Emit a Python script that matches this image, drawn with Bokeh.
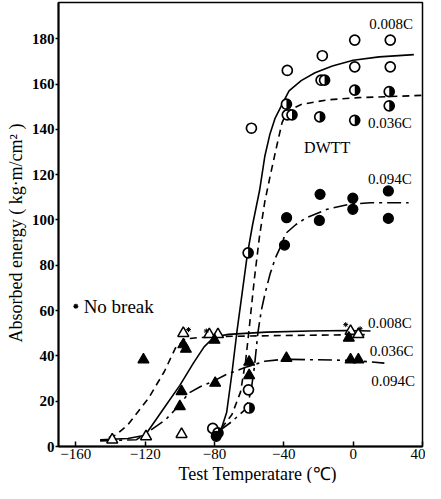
import math
from bokeh.plotting import figure
from bokeh.models import Label, FixedTicker, Title
from bokeh.embed import file_html
from bokeh.resources import INLINE

# ---------------- data ----------------
x_ticks = [-160, -120, -80, -40, 0, 40]
x_tick_labels = ["\u2212160", "\u2212120", "\u221280", "\u221240", "0", "40"]
y_ticks = [0, 20, 40, 60, 80, 100, 120, 140, 160, 180]

# DWTT curves
dwtt_008_T = [-80, -76, -73, -70, -67, -64, -61, -58, -54, -51, -48, -45, -41, -37, -30, -22, -12, 0, 15, 35]
dwtt_008_E = [4, 8, 15, 32, 51, 68, 85, 98, 113, 128, 138, 145, 151, 157, 161.5, 165, 168, 170.5, 172, 173]
dwtt_036_T = [-76, -70, -65, -62, -60, -57, -54, -51, -48, -44, -41, -38, -30, -15, 3, 40]
dwtt_036_E = [8, 14, 24, 38, 52, 74, 93, 108, 119, 133, 143, 148, 151, 153, 154, 155]
dwtt_094_T = [-77, -70, -62, -59, -57, -55, -53, -51, -48, -45, -42, -39, -33, -27, -15, -2, 10, 32]
dwtt_094_E = [7, 11, 16.5, 24, 35, 50, 60, 67, 76, 83, 88, 94, 98, 101, 104.7, 107, 107.6, 107.6]

# Charpy curves
ch_008_T = [-146, -130, -120, -110, -100, -92, -86, -82, -78, -72, -50, -25, -4, 10]
ch_008_E = [3, 3.5, 5, 16, 27, 37, 44, 47, 48.7, 49.5, 50.5, 51, 51.2, 51]
ch_036_T = [-141, -137, -130, -118, -109, -102.5, -97, -90, -74, -40, 7]
ch_036_E = [4, 5, 9.6, 21.4, 33, 43.5, 47.5, 48, 48.6, 49, 49.4]
ch_094_T = [-146, -125, -119, -108, -100, -95, -88, -81, -73.5, -62, -51, -40, -23, 0, 18]
ch_094_E = [2.5, 3, 6, 12, 18.5, 23.5, 26.5, 28.7, 31.7, 35, 37.6, 38.5, 38.3, 38, 36.8]

# DWTT points
dw_open_T = [-58.7, -38, -17.8, 0.9, 21.4, 0.9, 21.4, -18.5, -38, -81, -60.4]
dw_open_E = [140.5, 166, 172.5, 179.4, 179.4, 167.6, 167.6, 161.7, 146.4, 8, 25]
dw_half_T = [-38.5, -35.3, -16.5, -19.3, 0.9, 0.9, 20.8, 20.8, -60.6, -60, -78]
dw_half_E = [151.1, 146.4, 161.7, 145.5, 157.3, 144, 156.7, 150.4, 85.5, 17, 6]
dw_full_T = [-19.1, -38.4, -19.5, -0.2, -0.2, 20.3, 20.3, -39.6, -79]
dw_full_E = [111.3, 101, 99.8, 109.6, 104.7, 112.8, 100.7, 88.9, 4.5]

# Charpy points
ch_open_T = [-139, -119.5, -99, -98, -83, -78, -1.5, 3]
ch_open_E = [3, 4.4, 5.4, 50, 49.5, 49.5, 50.9, 49.5]
ch_full_T = [-121, -98, -96.5, -80, -2.5, -99, -100, -79.6, -60, -60, -38.5, -1.5, 3]
ch_full_E = [38.3, 45, 43, 47, 47.9, 24.3, 17.7, 28, 37.3, 31.4, 39, 38.3, 38.3]

# "no break" marks
nb_T = [-95, -84.7, -4.3, 4]
nb_E = [51.6, 51, 53.8, 52]

FONT = "Liberation Serif"

p = figure(width=425, height=483, x_range=(-170, 40), y_range=(0, 196),
           output_backend="svg", toolbar_location=None,
           min_border_left=8, min_border_right=3, min_border_top=2, min_border_bottom=0)
p.xgrid.visible = False
p.ygrid.visible = False
p.outline_line_color = "black"
p.outline_line_width = 1.5

p.xaxis.ticker = FixedTicker(ticks=x_ticks)
p.xaxis.major_label_overrides = {t: l for t, l in zip(x_ticks, x_tick_labels)}
p.yaxis.ticker = FixedTicker(ticks=y_ticks)
for ax in (p.xaxis, p.yaxis):
    ax.axis_line_color = "black"
    ax.axis_line_width = 2
    ax.major_tick_line_color = "black"
    ax.major_tick_line_width = 1.5
    ax.minor_tick_line_color = None
    ax.major_label_text_font = FONT
    ax.major_label_text_color = "black"
    ax.major_label_text_font_size = "15px"
p.xaxis.major_tick_in = 5
p.xaxis.major_tick_out = 0
p.xaxis.major_label_standoff = 2
p.yaxis.major_tick_in = 0
p.yaxis.major_tick_out = 3
p.yaxis.major_label_standoff = 1
p.yaxis.major_label_text_font_style = "bold"

# axis titles as offset titles
p.add_layout(Title(text="Test Temperatare (\u2103)", align="left", offset=120,
                   text_font=FONT, text_font_size="18px", text_font_style="normal",
                   text_color="black", standoff=0), "below")
p.add_layout(Title(text="Absorbed energy ( kg\u00b7m/cm\u00b2 )", align="left", offset=104,
                   text_font=FONT, text_font_size="18px", text_font_style="normal",
                   text_color="black", standoff=6), "left")

# curves
LW = 1.6
p.line(dwtt_008_T, dwtt_008_E, line_color="black", line_width=LW)
p.line(dwtt_036_T, dwtt_036_E, line_color="black", line_width=LW, line_dash="7 5")
p.line(dwtt_094_T, dwtt_094_E, line_color="black", line_width=LW, line_dash="14 5 3 5")
p.line(ch_008_T, ch_008_E, line_color="black", line_width=LW)
p.line(ch_036_T, ch_036_E, line_color="black", line_width=LW, line_dash="7 5")
p.line(ch_094_T, ch_094_E, line_color="black", line_width=LW, line_dash="14 5 3 5")

# markers
p.scatter(dw_open_T, dw_open_E, marker="circle", size=10, fill_color="white",
          line_color="black", line_width=1.7)
p.scatter(dw_half_T, dw_half_E, marker="circle", size=10, fill_color="white",
          line_color="black", line_width=1.7)
p.wedge(dw_half_T, dw_half_E, radius=5, radius_units="screen",
        start_angle=-math.pi / 2, end_angle=math.pi / 2,
        fill_color="black", line_color=None)
p.scatter(dw_full_T, dw_full_E, marker="circle", size=10, fill_color="black",
          line_color="black", line_width=1.2)
p.scatter(ch_open_T, ch_open_E, marker="triangle", size=11, fill_color="white",
          line_color="black", line_width=1.5)
p.scatter(ch_full_T, ch_full_E, marker="triangle", size=11, fill_color="black",
          line_color="black", line_width=1.2)
p.scatter(nb_T, nb_E, marker="asterisk", size=5, line_color="black", line_width=1)
p.scatter([-160], [61.9], marker="asterisk", size=5, line_color="black", line_width=1.2)

def lab(x, y, t, size="15px", align="left"):
    p.add_layout(Label(x=x, y=y, text=t, text_font=FONT, text_font_size=size,
                       text_align=align, text_baseline="middle",
                       text_color="black"))

lab(9.3, 186.6, "0.008C")
lab(8.6, 142.9, "0.036C")
lab(-28.3, 131.8, "DWTT", size="16px")
lab(8.6, 118.2, "0.094C")
lab(8.6, 54.5, "0.008C")
lab(9.5, 42.0, "0.036C")
lab(10.5, 28.7, "0.094C")
lab(-155.5, 61.9, "No break", size="19px")

open("out.html", "w").write(file_html(p, INLINE))
